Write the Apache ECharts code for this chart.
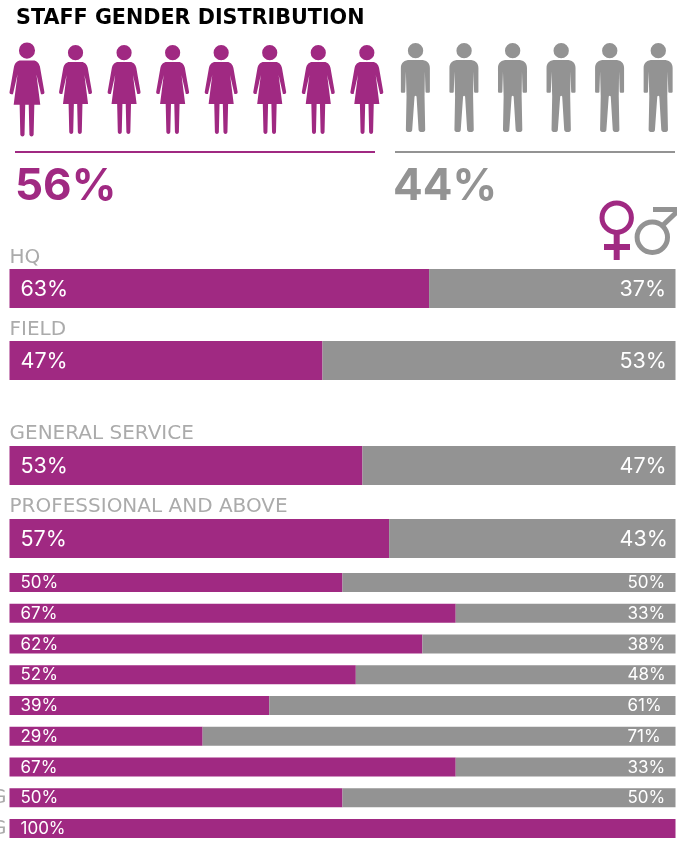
<!DOCTYPE html>
<html>
<head>
<meta charset="utf-8">
<title>Staff gender distribution</title>
<script src="https://cdn.jsdelivr.net/npm/echarts@6/dist/echarts.min.js"></script>
<style>
  html, body { margin: 0; padding: 0; background: #fff; overflow: hidden; }
  #chart { width: 677px; height: 841px; }
</style>
</head>
<body>
<div id="chart"></div>
<script>
// headline shares and pictogram rows
var femaleShare = '56%'
var maleShare = '44%'
var iconSlots = ['1', '2', '3', '4', '5', '6', '7', '8', '9', '10', '11', '12', '13', '14']
var womenIcons = [1, 1, 1, 1, 1, 1, 1, 1, '-', '-', '-', '-', '-', '-']
var menIcons = ['-', '-', '-', '-', '-', '-', '-', '-', 1, 1, 1, 1, 1, 1]

// bars
var locationLabels = ['HQ', 'FIELD']
var locationFemale = [63, 47]
var locationMale = [37, 53]

var gradeLabels = ['GENERAL SERVICE', 'PROFESSIONAL AND ABOVE']
var gradeFemale = [53, 57]
var gradeMale = [47, 43]

// only the tail of the last two labels is visible in the source
var levelLabels = ['', '', '', '', '', '', '', 'G', 'G']
var levelFemale = [50, 67, 62, 52, 39, 29, 67, 50, 100]
var levelMale = [50, 33, 38, 48, 61, 71, 33, 50, 0]

var PURPLE = '#a02982'
var GREY = '#939393'
var LABEL_GREY = '#ababab'
var FONT = 'Inter, "Noto Sans", sans-serif'
var WIDE_FONT = '"DejaVu Sans", Inter, sans-serif'

var WOMAN = 'path://M27 23A23 23 0 1 1 73 23A23 23 0 1 1 27 23ZM32 51L68 51C78 51 84 58 87 68L100 142Q100 147 95 147L90 147L77 90L88 177L71 177L69 262Q68 267 63 267Q58 267 57 262L55 177L45 177L43 262Q42 267 37 267Q32 267 31 262L29 177L12 177L23 90L10 147L5 147Q0 147 0 142L13 68C16 58 22 51 32 51Z'
var MAN = 'path://M21 22A23 23 0 1 1 67 22A23 23 0 1 1 21 22ZM27 50L60 50C76 50 87 58 87 74L87 146Q87 149 84 149L77 149Q74 149 74 146L72 85L71 160L73 260Q73 267 63 267Q54 267 53 260L47 160Q44 155 41 160L34 260Q34 267 25 267Q15 267 15 260L17 160L15 85L13 146Q13 149 10 149L3 149Q0 149 0 146L0 74C0 58 11 50 27 50Z'

function pct (v) {
  return v ? v + '%' : ''
}

function barPair (index, female, male, barWidth, fontSize, rightWidth, dy) {
  return [{
    type: 'bar',
    stack: 'g' + index,
    xAxisIndex: index,
    yAxisIndex: index,
    barWidth: barWidth,
    itemStyle: { color: PURPLE },
    label: {
      show: true,
      position: 'insideLeft',
      distance: 11,
      offset: [0, dy],
      color: '#fff',
      fontFamily: FONT,
      fontSize: fontSize,
      formatter: function (p) { return pct(p.value) }
    },
    data: female
  }, {
    type: 'bar',
    stack: 'g' + index,
    xAxisIndex: index,
    yAxisIndex: index,
    barWidth: barWidth,
    itemStyle: { color: GREY },
    label: {
      show: true,
      position: 'insideRight',
      distance: 11,
      offset: [0, dy],
      color: '#fff',
      formatter: function (p) { return p.value ? '{v|' + pct(p.value) + '}' : '' },
      rich: {
        // labels start at a common x, so 61% and 71% end short of the others
        v: { width: rightWidth, align: 'left', color: '#fff', fontFamily: FONT, fontSize: fontSize }
      }
    },
    data: male
  }]
}

function valueAxis (index) {
  return { type: 'value', gridIndex: index, min: 0, max: 100, show: false }
}

function catAxis (index, labels, label) {
  return {
    type: 'category',
    gridIndex: index,
    inverse: true,
    data: labels,
    axisLine: { show: false },
    axisTick: { show: false },
    axisLabel: Object.assign({
      color: LABEL_GREY,
      fontFamily: WIDE_FONT,
      fontSize: 20
    }, label)
  }
}

var aboveBar = { inside: true, margin: 0, verticalAlign: 'bottom', padding: [0, 0, 21, 0] }
var aboveBarHigh = { inside: true, margin: 0, verticalAlign: 'bottom', padding: [0, 0, 22, 0] }
var besideBar = { margin: 3 }

function iconData (values, first, size) {
  return values.map(function (v, i) {
    return { value: v, symbolSize: i === first ? [35, 94] : size }
  })
}

var option = {
  animation: false,
  backgroundColor: '#fff',
  title: [
    { text: 'STAFF GENDER DISTRIBUTION', left: 16, top: 8, padding: 0, textStyle: { color: '#000', fontFamily: WIDE_FONT, fontWeight: 'bold', fontSize: 20.7 } },
    { text: femaleShare, left: 15, top: 165, padding: 0, textStyle: { color: PURPLE, fontFamily: FONT, fontWeight: 'bold', fontSize: 44 } },
    { text: maleShare, left: 393, top: 165, padding: 0, textStyle: { color: GREY, fontFamily: FONT, fontWeight: 'bold', fontSize: 44 } }
  ],
  grid: [
    { left: 9.5, width: 666, top: 252.5, height: 144, outerBoundsMode: 'none' },
    { left: 9.5, width: 666, top: 429, height: 146, outerBoundsMode: 'none' },
    { left: 9.5, width: 666, top: 567.1, height: 276.8, outerBoundsMode: 'none' },
    { left: 2.7, width: 679.7, top: 40, height: 100, outerBoundsMode: 'none' }
  ],
  xAxis: [
    valueAxis(0),
    valueAxis(1),
    valueAxis(2),
    { type: 'category', gridIndex: 3, data: iconSlots, show: false }
  ],
  yAxis: [
    catAxis(0, locationLabels, aboveBar),
    catAxis(1, gradeLabels, aboveBarHigh),
    catAxis(2, levelLabels, besideBar),
    { type: 'value', gridIndex: 3, min: 0, max: 1, show: false }
  ],
  series: [].concat(
    barPair(0, locationFemale, locationMale, 39, 21.5, 45, 1),
    barPair(1, gradeFemale, gradeMale, 39, 21.5, 45, 1),
    barPair(2, levelFemale, levelMale, 19, 17, 37, 0.5),
    [{
      type: 'pictorialBar',
      xAxisIndex: 3,
      yAxisIndex: 3,
      barWidth: 48,
      barGap: '-100%',
      symbol: WOMAN,
      symbolPosition: 'center',
      symbolOffset: [0, -0.5],
      itemStyle: { color: PURPLE },
      data: iconData(womenIcons, 0, [33, 89])
    }, {
      type: 'pictorialBar',
      xAxisIndex: 3,
      yAxisIndex: 3,
      barWidth: 48,
      barGap: '-100%',
      symbol: MAN,
      symbolPosition: 'center',
      symbolOffset: [0, -2.5],
      itemStyle: { color: GREY },
      data: iconData(menIcons, -1, [29, 89])
    }]
  ),
  graphic: [
    // rules under the pictograms
    { type: 'rect', shape: { x: 15, y: 151, width: 360, height: 2 }, style: { fill: PURPLE } },
    { type: 'rect', shape: { x: 395, y: 151, width: 280, height: 2 }, style: { fill: GREY } },
    // female sign
    { type: 'circle', shape: { cx: 616.7, cy: 217.7, r: 14.7 }, style: { fill: 'none', stroke: PURPLE, lineWidth: 5 } },
    { type: 'rect', shape: { x: 613.7, y: 232, width: 6, height: 28 }, style: { fill: PURPLE } },
    { type: 'rect', shape: { x: 604, y: 244, width: 26, height: 6 }, style: { fill: PURPLE } },
    // male sign
    { type: 'circle', shape: { cx: 652.3, cy: 237.3, r: 15.2 }, style: { fill: 'none', stroke: GREY, lineWidth: 5 } },
    { type: 'line', shape: { x1: 662, y1: 226, x2: 682, y2: 207 }, style: { stroke: GREY, lineWidth: 5 } },
    { type: 'polygon', shape: { points: [[653, 207], [682, 207], [682, 212], [653, 212]] }, style: { fill: GREY } }
  ]
}

var chart = echarts.init(document.getElementById('chart'))
chart.setOption(option)
</script>
</body>
</html>
